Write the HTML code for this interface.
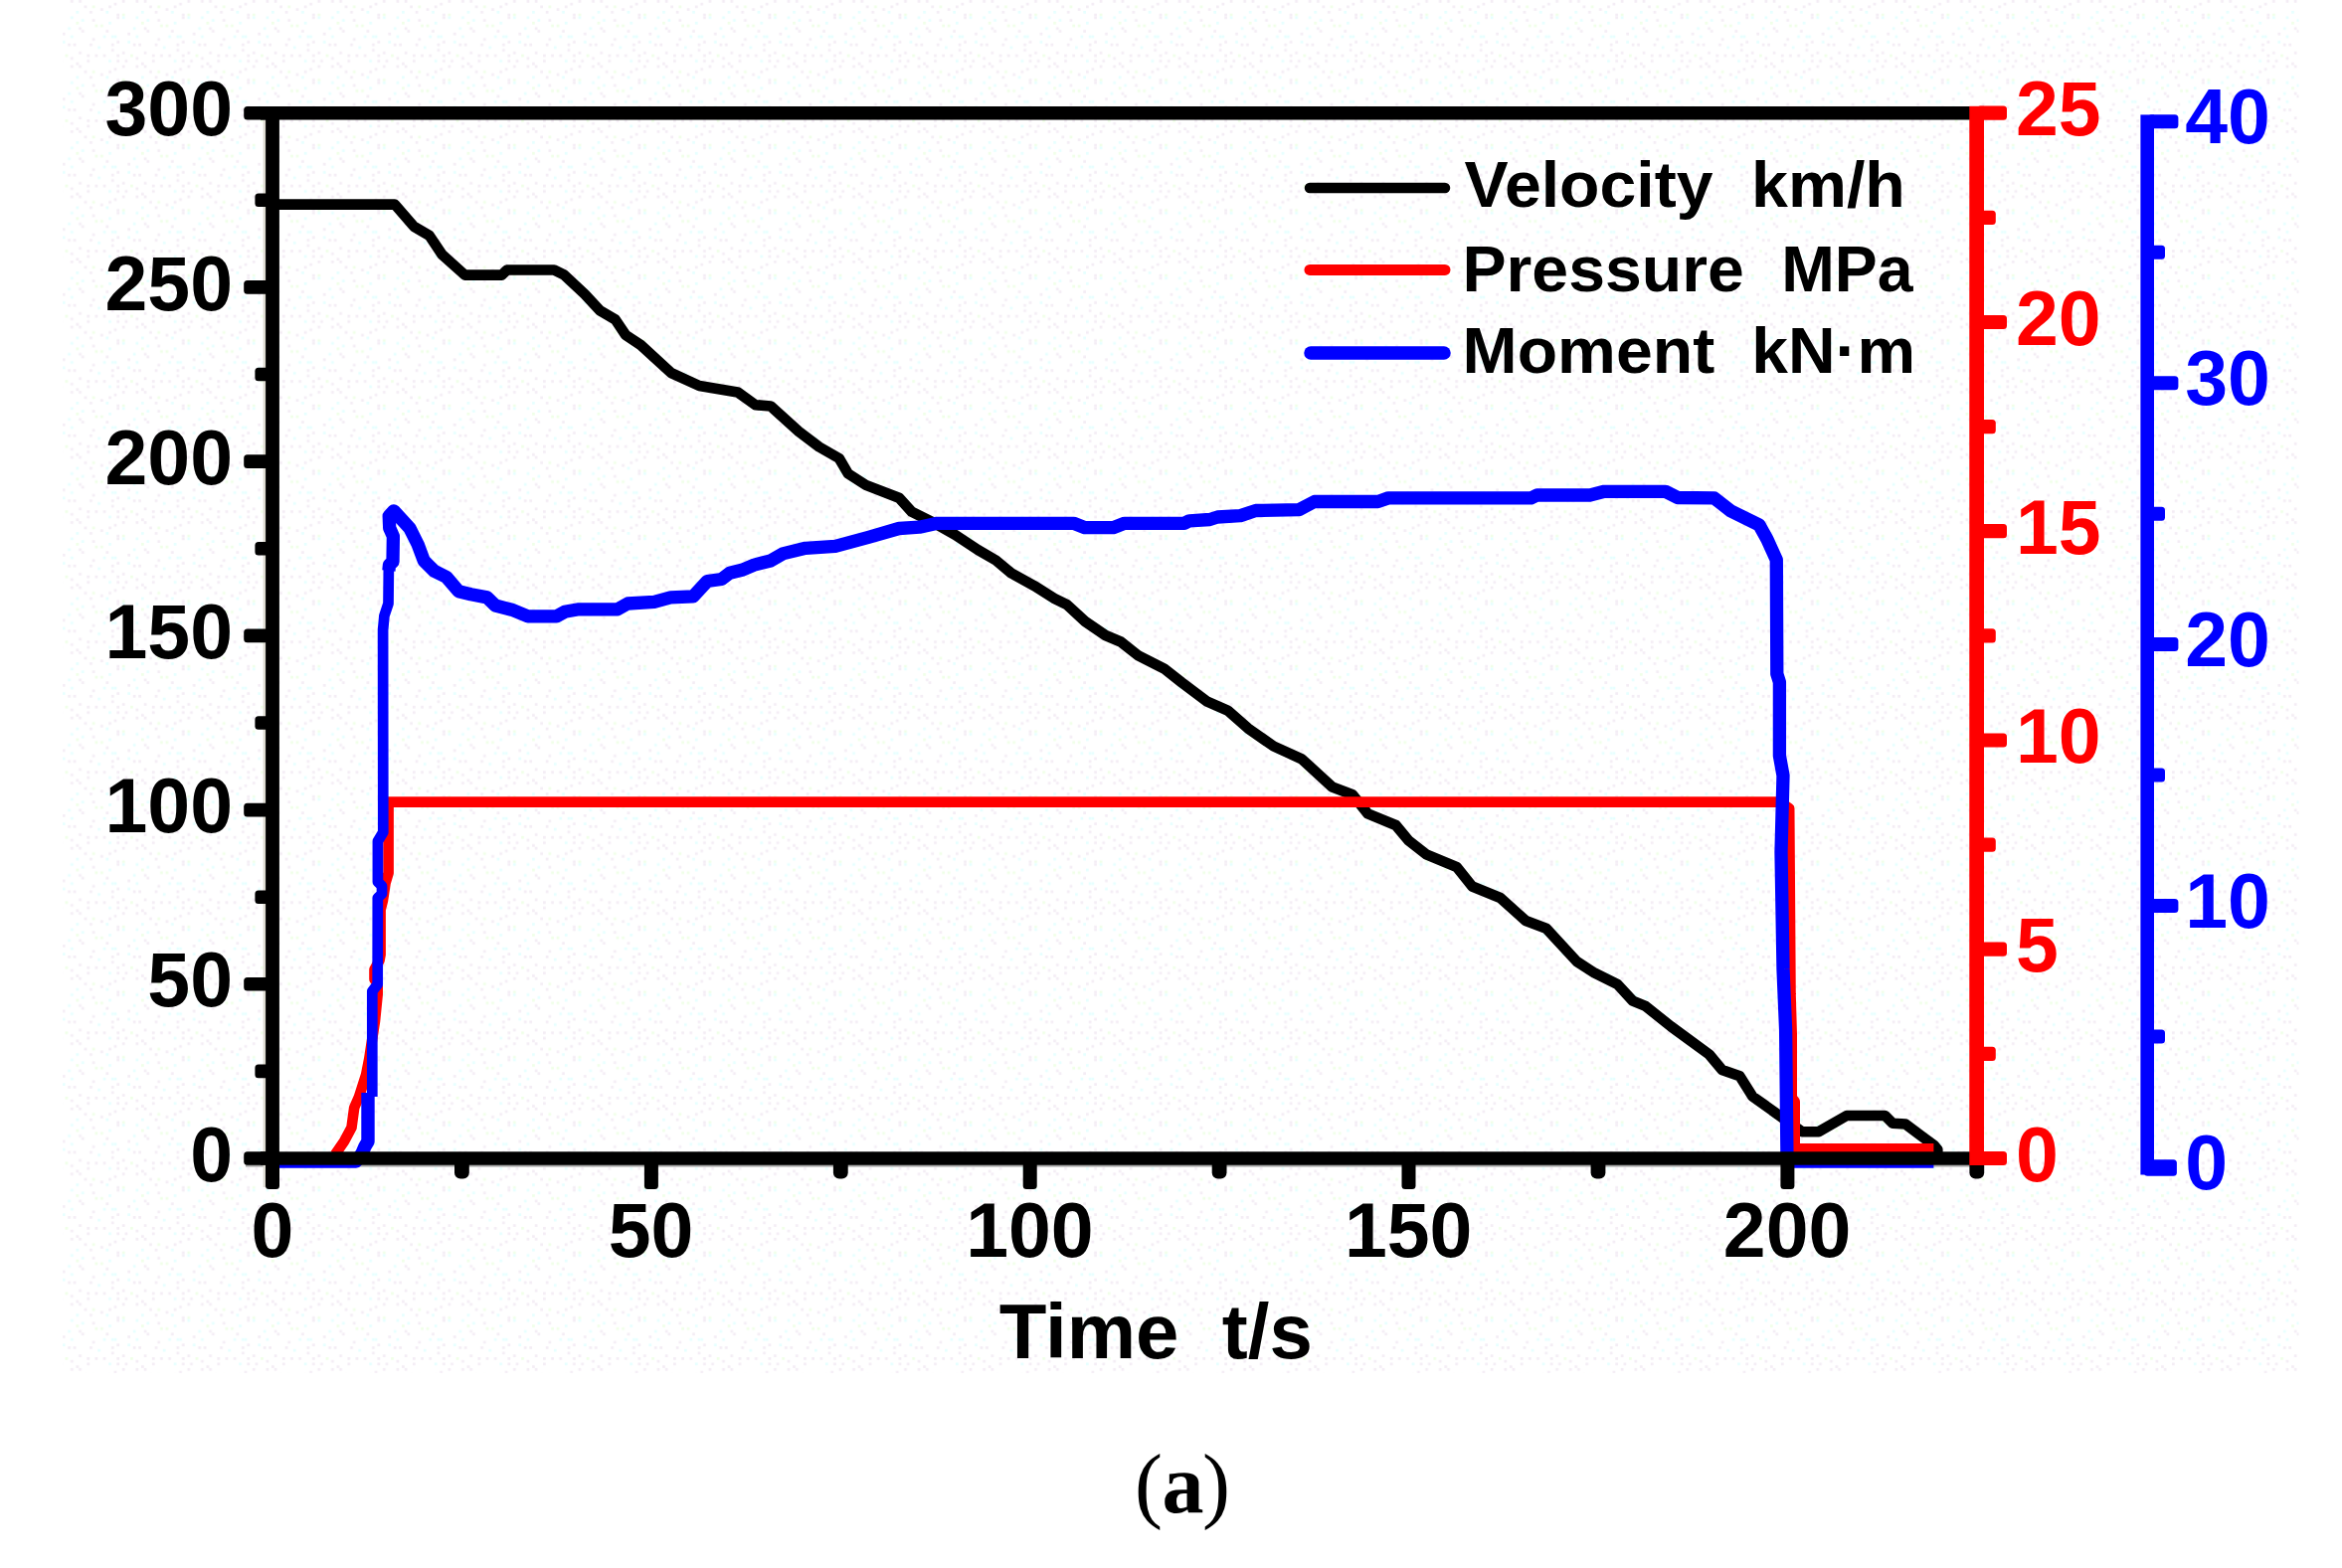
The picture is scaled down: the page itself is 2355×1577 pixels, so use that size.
<!DOCTYPE html>
<html><head><meta charset="utf-8"><title>Figure (a)</title>
<style>
html,body{margin:0;padding:0;background:#fff;}
body{width:2355px;height:1577px;overflow:hidden;}
svg{display:block;}
.t{font-family:"Liberation Sans",Arial,sans-serif;font-weight:bold;}
.s{font-family:"Liberation Serif","Times New Roman",serif;}
</style></head><body>
<svg width="2355" height="1577" viewBox="0 0 2355 1577">
<defs><pattern id="dz" width="65.52" height="65.52" patternUnits="userSpaceOnUse"><rect x="5.46" y="0.00" width="2.73" height="2.73" fill="#f4edf5"/><rect x="5.46" y="16.38" width="2.73" height="2.73" fill="#e6ffff"/><rect x="2.73" y="27.30" width="2.73" height="2.73" fill="#e6ffff"/><rect x="5.46" y="35.49" width="2.73" height="2.73" fill="#e6ffff"/><rect x="2.73" y="43.68" width="2.73" height="2.73" fill="#f4edf5"/><rect x="0.00" y="54.60" width="2.73" height="2.73" fill="#f0ffe8"/><rect x="5.46" y="57.33" width="2.73" height="2.73" fill="#f4edf5"/><rect x="13.65" y="0.00" width="2.73" height="2.73" fill="#f4edf5"/><rect x="10.92" y="10.92" width="2.73" height="2.73" fill="#e6ffff"/><rect x="10.92" y="21.84" width="2.73" height="2.73" fill="#f0ffe8"/><rect x="13.65" y="27.30" width="2.73" height="2.73" fill="#f4edf5"/><rect x="8.19" y="43.68" width="2.73" height="2.73" fill="#f4edf5"/><rect x="13.65" y="51.87" width="2.73" height="2.73" fill="#f4edf5"/><rect x="10.92" y="62.79" width="2.73" height="2.73" fill="#f4edf5"/><rect x="19.11" y="5.46" width="2.73" height="2.73" fill="#f4edf5"/><rect x="16.38" y="19.11" width="2.73" height="2.73" fill="#e6ffff"/><rect x="16.38" y="30.03" width="2.73" height="2.73" fill="#f4edf5"/><rect x="21.84" y="54.60" width="2.73" height="2.73" fill="#f4edf5"/><rect x="21.84" y="60.06" width="2.73" height="2.73" fill="#f4edf5"/><rect x="27.30" y="5.46" width="2.73" height="2.73" fill="#f0ffe8"/><rect x="24.57" y="10.92" width="2.73" height="2.73" fill="#f4edf5"/><rect x="27.30" y="19.11" width="2.73" height="2.73" fill="#f4edf5"/><rect x="30.03" y="24.57" width="2.73" height="2.73" fill="#f0ffe8"/><rect x="27.30" y="38.22" width="2.73" height="2.73" fill="#f4edf5"/><rect x="24.57" y="43.68" width="2.73" height="2.73" fill="#f4edf5"/><rect x="30.03" y="54.60" width="2.73" height="2.73" fill="#f4edf5"/><rect x="35.49" y="8.19" width="2.73" height="2.73" fill="#f4edf5"/><rect x="35.49" y="24.57" width="2.73" height="2.73" fill="#f0ffe8"/><rect x="38.22" y="35.49" width="2.73" height="2.73" fill="#e6ffff"/><rect x="32.76" y="46.41" width="2.73" height="2.73" fill="#e6ffff"/><rect x="38.22" y="54.60" width="2.73" height="2.73" fill="#f4edf5"/><rect x="43.68" y="5.46" width="2.73" height="2.73" fill="#f4edf5"/><rect x="40.95" y="10.92" width="2.73" height="2.73" fill="#e6ffff"/><rect x="43.68" y="21.84" width="2.73" height="2.73" fill="#e6ffff"/><rect x="40.95" y="30.03" width="2.73" height="2.73" fill="#f4edf5"/><rect x="46.41" y="35.49" width="2.73" height="2.73" fill="#e6ffff"/><rect x="46.41" y="43.68" width="2.73" height="2.73" fill="#f4edf5"/><rect x="46.41" y="49.14" width="2.73" height="2.73" fill="#f4edf5"/><rect x="43.68" y="60.06" width="2.73" height="2.73" fill="#e6ffff"/><rect x="49.14" y="2.73" width="2.73" height="2.73" fill="#f4edf5"/><rect x="51.87" y="13.65" width="2.73" height="2.73" fill="#f4edf5"/><rect x="51.87" y="16.38" width="2.73" height="2.73" fill="#f4edf5"/><rect x="49.14" y="35.49" width="2.73" height="2.73" fill="#e6ffff"/><rect x="51.87" y="40.95" width="2.73" height="2.73" fill="#f4edf5"/><rect x="51.87" y="54.60" width="2.73" height="2.73" fill="#f4edf5"/><rect x="51.87" y="60.06" width="2.73" height="2.73" fill="#f4edf5"/><rect x="57.33" y="0.00" width="2.73" height="2.73" fill="#f4edf5"/><rect x="57.33" y="13.65" width="2.73" height="2.73" fill="#f0ffe8"/><rect x="57.33" y="16.38" width="2.73" height="2.73" fill="#e6ffff"/><rect x="62.79" y="32.76" width="2.73" height="2.73" fill="#f4edf5"/><rect x="62.79" y="40.95" width="2.73" height="2.73" fill="#e6ffff"/><rect x="57.33" y="51.87" width="2.73" height="2.73" fill="#f4edf5"/><rect x="60.06" y="60.06" width="2.73" height="2.73" fill="#f4edf5"/></pattern></defs>
<rect x="0" y="0" width="2355" height="1577" fill="#fff"/>
<rect x="63" y="0" width="2248.5" height="1381" fill="url(#dz)"/>
<rect x="247" y="1170" width="1743" height="3.6" fill="#a8a8a8"/>
<g fill="none" stroke-linejoin="round" stroke-linecap="butt">
<polyline points="274.0,205.60 397.0,205.60 416.3,227.90 431.7,236.90 444.5,256.00 467.5,276.60 504.7,276.60 509.8,271.50 557.2,271.50 567.4,276.60 588.0,295.80 603.3,312.40 618.7,321.40 629.0,336.80 644.3,347.00 675.0,375.20 703.2,388.00 741.7,394.40 759.6,407.20 775.0,408.50 803.2,434.00 823.7,449.50 843.8,461.00 852.8,476.40 870.7,487.90 904.0,500.70 916.9,514.80 937.4,525.00 960.4,537.90 983.5,553.20 1001.4,563.50 1016.8,576.30 1039.8,589.10 1060.3,601.90 1073.1,608.30 1091.1,625.00 1111.6,639.00 1127.0,645.50 1144.9,659.60 1170.5,672.40 1188.4,686.50 1214.0,705.70 1234.5,714.60 1255.0,732.60 1280.7,750.50 1308.9,763.30 1339.6,791.50 1360.1,799.20 1375.4,818.40 1403.6,830.00 1416.4,845.30 1434.3,859.40 1465.0,872.20 1480.4,891.50 1508.6,903.00 1534.2,926.00 1554.7,933.70 1585.5,967.00 1603.4,978.60 1626.5,990.00 1641.8,1006.70 1654.6,1011.90 1680.3,1032.40 1718.7,1060.50 1731.5,1075.90 1749.4,1082.30 1762.3,1102.80 1793.0,1124.60 1812.2,1138.20 1828.9,1138.20 1857.0,1122.00 1895.5,1122.00 1903.2,1129.70 1916.0,1130.50 1932.0,1142.50 1945.0,1152.00 1948.3,1156.00 1948.3,1161.00" stroke="#000" stroke-width="10.6"/>
<polyline points="337.0,1161.00 346.0,1148.00 353.5,1134.00 356.2,1114.00 361.0,1103.00 368.2,1080.50 371.3,1064.50 375.0,1040.00 377.0,1027.00 379.7,1000.00 379.7,989.00 376.5,985.00 376.5,975.00 381.5,966.00 382.6,960.00 382.6,915.00 384.9,906.00 387.6,888.00 390.6,878.00 390.6,806.60 1790.0,806.60 1799.2,813.00 1800.5,1000.00 1801.7,1040.00 1801.7,1104.00 1804.7,1108.00 1804.7,1155.30 1944.4,1155.30" stroke="#ff0000" stroke-width="10.6"/>
<polyline points="280.0,1168.00 358.0,1168.00 364.0,1160.00 367.0,1153.00 370.0,1148.00 370.0,1099.00" stroke="#0000ff" stroke-width="13.4"/>
<polyline points="374.3,1103.00 374.3,997.00 379.7,990.00 379.8,903.00 384.0,899.00 384.0,891.00 379.9,887.00 379.9,846.00 385.3,837.00 385.1,633.70 386.4,619.40 390.5,607.00 390.9,568.00" stroke="#0000ff" stroke-width="10.7"/>
<polyline points="390.9,574.00 391.5,568.00 395.0,565.00 395.4,539.40 391.7,531.00 391.2,519.00 396.0,513.80 412.0,531.20 420.2,547.60 426.3,564.00 436.6,574.30 448.9,580.40 461.2,594.80 473.5,597.80 489.9,600.90 498.1,609.00 514.5,613.20 530.9,619.80 559.6,619.80 567.8,615.30 582.1,612.80 621.0,612.80 631.3,607.00 657.9,605.40 674.3,600.90 696.9,599.90 711.2,584.50 725.6,582.50 733.8,576.30 746.0,573.30 758.4,568.10 774.8,564.00 787.0,556.90 810.0,551.30 840.0,549.40 873.3,540.40 904.0,531.50 924.5,530.20 942.5,526.30 1079.6,526.30 1091.0,530.70 1119.3,530.70 1130.8,526.30 1191.0,526.30 1196.0,523.80 1216.6,522.50 1224.3,520.00 1247.4,518.60 1262.7,513.50 1306.3,512.70 1321.7,504.50 1385.7,504.50 1396.0,500.90 1539.4,500.90 1545.5,498.00 1598.8,498.00 1613.2,494.30 1674.6,494.30 1687.0,500.50 1723.8,500.90 1740.2,513.80 1769.0,528.00 1777.0,542.50 1786.3,563.00 1786.8,677.80 1789.4,686.00 1789.4,760.00 1793.0,780.00 1791.0,857.00 1793.0,974.70 1795.6,1036.00 1796.8,1151.50 1797.0,1168.00 1813.0,1168.00 1944.4,1168.00" stroke="#0000ff" stroke-width="13.3"/>
</g>
<rect x="264.6" y="121.0" width="2.9" height="1073.0" fill="#dedbd2"/>
<g>
<rect x="245.2" y="106.9" width="29.8" height="13.6" fill="#000" rx="3.5"/>
<rect x="256.4" y="194.5" width="18.6" height="13.6" fill="#000" rx="3.5"/>
<rect x="245.2" y="282.1" width="29.8" height="13.6" fill="#000" rx="3.5"/>
<rect x="256.4" y="369.7" width="18.6" height="13.6" fill="#000" rx="3.5"/>
<rect x="245.2" y="457.3" width="29.8" height="13.6" fill="#000" rx="3.5"/>
<rect x="256.4" y="544.9" width="18.6" height="13.6" fill="#000" rx="3.5"/>
<rect x="245.2" y="632.6" width="29.8" height="13.6" fill="#000" rx="3.5"/>
<rect x="256.4" y="720.2" width="18.6" height="13.6" fill="#000" rx="3.5"/>
<rect x="245.2" y="807.8" width="29.8" height="13.6" fill="#000" rx="3.5"/>
<rect x="256.4" y="895.4" width="18.6" height="13.6" fill="#000" rx="3.5"/>
<rect x="245.2" y="983.0" width="29.8" height="13.6" fill="#000" rx="3.5"/>
<rect x="256.4" y="1070.6" width="18.6" height="13.6" fill="#000" rx="3.5"/>
<rect x="245.2" y="1158.2" width="29.8" height="13.6" fill="#000" rx="3.5"/>
<rect x="267.0" y="1160.0" width="14.0" height="36.0" fill="#000" rx="3.5"/>
<rect x="457.0" y="1160.0" width="14.8" height="25.4" fill="#000" rx="6"/>
<rect x="647.9" y="1160.0" width="14.0" height="36.0" fill="#000" rx="3.5"/>
<rect x="837.9" y="1160.0" width="14.8" height="25.4" fill="#000" rx="6"/>
<rect x="1028.7" y="1160.0" width="14.0" height="36.0" fill="#000" rx="3.5"/>
<rect x="1218.7" y="1160.0" width="14.8" height="25.4" fill="#000" rx="6"/>
<rect x="1409.5" y="1160.0" width="14.0" height="36.0" fill="#000" rx="3.5"/>
<rect x="1599.6" y="1160.0" width="14.8" height="25.4" fill="#000" rx="6"/>
<rect x="1790.4" y="1160.0" width="14.0" height="36.0" fill="#000" rx="3.5"/>
<rect x="1980.4" y="1160.0" width="14.8" height="25.4" fill="#000" rx="6"/>
<rect x="267.1" y="107.0" width="13.8" height="1073.0" fill="#000"/>
<rect x="262.0" y="107.0" width="1728.0" height="13.5" fill="#000"/>
<rect x="262.0" y="1158.3" width="1728.0" height="13.4" fill="#000"/>
</g>
<rect x="1988.0" y="106.6" width="30.0" height="14.2" fill="#ff0000" rx="3.5"/>
<rect x="1988.0" y="211.7" width="18.8" height="14.2" fill="#ff0000" rx="3.5"/>
<rect x="1988.0" y="316.9" width="30.0" height="14.2" fill="#ff0000" rx="3.5"/>
<rect x="1988.0" y="422.0" width="18.8" height="14.2" fill="#ff0000" rx="3.5"/>
<rect x="1988.0" y="527.1" width="30.0" height="14.2" fill="#ff0000" rx="3.5"/>
<rect x="1988.0" y="632.3" width="18.8" height="14.2" fill="#ff0000" rx="3.5"/>
<rect x="1988.0" y="737.4" width="30.0" height="14.2" fill="#ff0000" rx="3.5"/>
<rect x="1988.0" y="842.5" width="18.8" height="14.2" fill="#ff0000" rx="3.5"/>
<rect x="1988.0" y="947.6" width="30.0" height="14.2" fill="#ff0000" rx="3.5"/>
<rect x="1988.0" y="1052.8" width="18.8" height="14.2" fill="#ff0000" rx="3.5"/>
<rect x="1988.0" y="1157.9" width="30.0" height="14.2" fill="#ff0000" rx="3.5"/>
<rect x="1980.3" y="106.8" width="14.7" height="1065.2" fill="#ff0000"/>
<rect x="2160.0" y="115.3" width="30.4" height="14.0" fill="#0000ff" rx="3.5"/>
<rect x="2160.0" y="246.8" width="17.0" height="14.0" fill="#0000ff" rx="3.5"/>
<rect x="2160.0" y="378.2" width="30.4" height="14.0" fill="#0000ff" rx="3.5"/>
<rect x="2160.0" y="509.7" width="17.0" height="14.0" fill="#0000ff" rx="3.5"/>
<rect x="2160.0" y="641.1" width="30.4" height="14.0" fill="#0000ff" rx="3.5"/>
<rect x="2160.0" y="772.6" width="17.0" height="14.0" fill="#0000ff" rx="3.5"/>
<rect x="2160.0" y="904.1" width="30.4" height="14.0" fill="#0000ff" rx="3.5"/>
<rect x="2160.0" y="1035.5" width="17.0" height="14.0" fill="#0000ff" rx="3.5"/>
<rect x="2156.0" y="1166.2" width="32.9" height="16.5" fill="#0000ff" rx="3.5"/>
<rect x="2152.4" y="115.4" width="13.6" height="1066.1" fill="#0000ff"/>
<g class="t" font-size="77" fill="#000" text-anchor="end">
<text x="234" y="136.3">300</text>
<text x="234" y="311.5">250</text>
<text x="234" y="486.7">200</text>
<text x="234" y="662.0">150</text>
<text x="234" y="837.2">100</text>
<text x="234" y="1012.4">50</text>
<text x="234" y="1187.6">0</text>
</g>
<g class="t" font-size="77" fill="#000" text-anchor="middle">
<text x="274.0" y="1264">0</text>
<text x="654.6" y="1264">50</text>
<text x="1035.4" y="1264">100</text>
<text x="1416.2" y="1264">150</text>
<text x="1797.1" y="1264">200</text>
</g>
<g class="t" font-size="77" fill="#ff0000">
<text x="2027" y="136.3">25</text>
<text x="2027" y="346.6">20</text>
<text x="2027" y="556.8">15</text>
<text x="2027" y="767.1">10</text>
<text x="2027" y="977.3">5</text>
<text x="2027" y="1187.6">0</text>
</g>
<g class="t" font-size="77" fill="#0000ff">
<text x="2197.3" y="143.8">40</text>
<text x="2197.3" y="406.7">30</text>
<text x="2197.3" y="669.6">20</text>
<text x="2197.3" y="932.6">10</text>
<text x="2197.3" y="1195.5">0</text>
</g>
<g stroke-linecap="round" fill="none">
<line x1="1317" y1="189" x2="1453" y2="189" stroke="#000" stroke-width="10.5"/>
<line x1="1317" y1="271.4" x2="1453" y2="271.4" stroke="#ff0000" stroke-width="11"/>
<line x1="1318" y1="355" x2="1452" y2="355" stroke="#0000ff" stroke-width="13.5"/>
</g>
<g class="t" font-size="64" fill="#000">
<text transform="translate(1472.4,208.4) scale(1.034,1)">Velocity</text>
<text transform="translate(1761.0,208.4) scale(1.037,1)">km/h</text>
<text transform="translate(1470.4,293.3) scale(1.035,1)">Pressure</text>
<text transform="translate(1791.2,293.3) scale(1.006,1)">MPa</text>
<text transform="translate(1470.6,375.4) scale(1.034,1)">Moment</text>
<text transform="translate(1761.3,375.4) scale(1.03,1)">kN·m</text>
</g>
<text class="t" font-size="78" x="1162.3" y="1366" text-anchor="middle" fill="#000" xml:space="preserve">Time  t/s</text>
<text class="s" font-size="84" y="1520.8" fill="#000"><tspan x="1141">(</tspan><tspan x="1168.5" font-weight="bold">a</tspan><tspan x="1209">)</tspan></text>
</svg></body></html>
